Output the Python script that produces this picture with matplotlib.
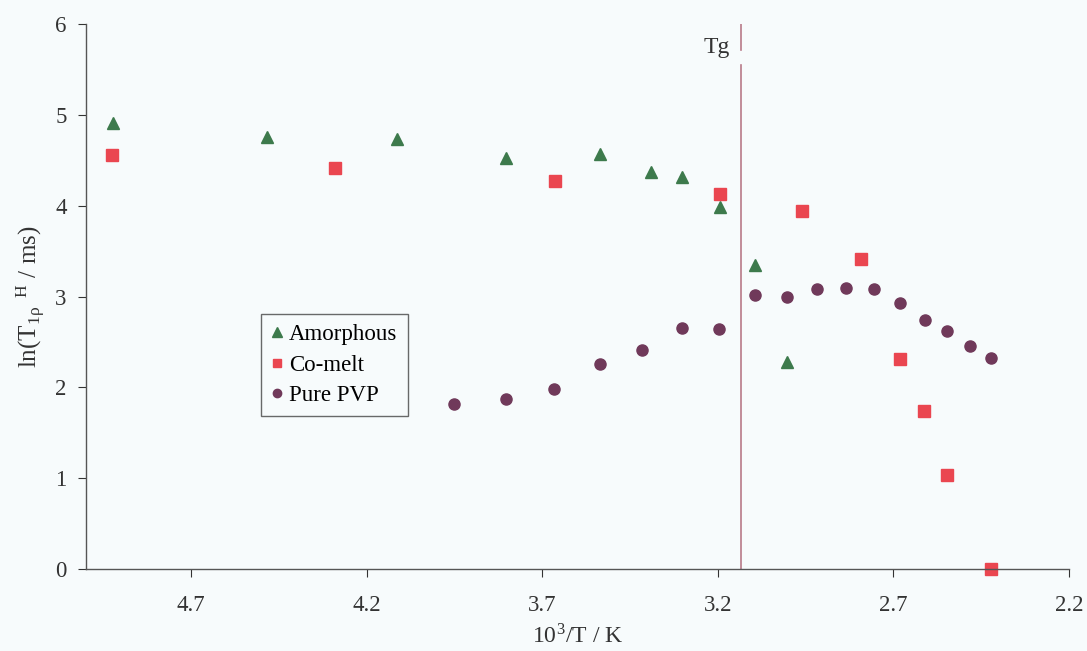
import matplotlib.pyplot as plt

plt.rcParams['font.family'] = ['Liberation Serif', 'DejaVu Serif']
plt.rcParams['mathtext.fontset'] = 'stix'

# Data
amorph_x = [4.924, 4.483, 4.113, 3.803, 3.535, 3.390, 3.302, 3.195, 3.094, 3.003]
amorph_y = [4.91, 4.76, 4.74, 4.52, 4.57, 4.37, 4.32, 3.99, 3.35, 2.28]

comelt_x = [4.926, 4.292, 3.665, 3.195, 2.960, 2.792, 2.682, 2.612, 2.546, 2.423]
comelt_y = [4.56, 4.41, 4.27, 4.13, 3.94, 3.41, 2.31, 1.74, 1.03, 0.0]

pvp_x = [3.953, 3.805, 3.666, 3.536, 3.415, 3.301, 3.197, 3.095, 3.003, 2.917,
         2.834, 2.756, 2.682, 2.611, 2.546, 2.481, 2.422]
pvp_y = [1.82, 1.87, 1.98, 2.26, 2.41, 2.65, 2.64, 3.02, 2.99, 3.08,
         3.09, 3.08, 2.93, 2.74, 2.62, 2.46, 2.32]

tg_x = 3.135
x_ticks = [4.7, 4.2, 3.7, 3.2, 2.7, 2.2]
y_ticks = [0, 1, 2, 3, 4, 5, 6]

bg = '#f7fbfc'
fig = plt.figure(figsize=(10.87, 6.51), dpi=100, facecolor=bg)
ax = fig.add_axes([0.0791, 0.126, 0.9043, 0.837], facecolor=bg)

ax.plot(amorph_x, amorph_y, linestyle='none', marker='^', markersize=9,
        color='#3d7a4c', label='Amorphous')
ax.plot(comelt_x, comelt_y, linestyle='none', marker='s', markersize=8.5,
        color='#ea4650', label='Co-melt', clip_on=False)
ax.plot(pvp_x, pvp_y, linestyle='none', marker='o', markersize=8,
        color='#70395a', label='Pure PVP')

# glass transition line (small gap near the top, as in the original)
ax.plot([tg_x, tg_x], [0, 5.55], color='#b87a88', linewidth=1.2)
ax.plot([tg_x, tg_x], [5.72, 6], color='#b87a88', linewidth=1.2)
ax.text(tg_x + 0.03, 5.74, 'Tg', ha='right', va='center', fontsize=17, color='#333333')

ax.set_xlim(5.0, 2.2)
ax.set_ylim(0, 6)
ax.set_xticks(x_ticks)
ax.set_xticklabels([f'{v:.1f}' for v in x_ticks])
ax.set_yticks(y_ticks)

for s in ['top', 'right']:
    ax.spines[s].set_visible(False)
for s in ['left', 'bottom']:
    ax.spines[s].set_color('#555555')
    ax.spines[s].set_linewidth(1.0)

ax.tick_params(axis='both', direction='out', labelsize=16.5, colors='#333333', length=6)
ax.tick_params(axis='x', pad=13)
ax.tick_params(axis='y', pad=8)

ax.set_xlabel(r'10$^\mathregular{3}$/T / K', fontsize=17, color='#333333', labelpad=6)
ax.set_ylabel(r'ln(T$_{\mathregular{1ρ}}$$^{\ \ \mathregular{H}}$ / ms)', fontsize=18,
              color='#333333', labelpad=6)

leg = ax.legend(loc='upper left', bbox_to_anchor=(0.166, 0.489), fontsize=16.5,
                frameon=True, fancybox=False, handlelength=0.5, handletextpad=0.3,
                borderpad=0.45, labelspacing=0.4, markerscale=0.75)
leg.get_frame().set_edgecolor('#444444')
leg.get_frame().set_facecolor(bg)
leg.get_frame().set_linewidth(1.0)

fig.savefig('out.png', dpi=100, facecolor=bg)
